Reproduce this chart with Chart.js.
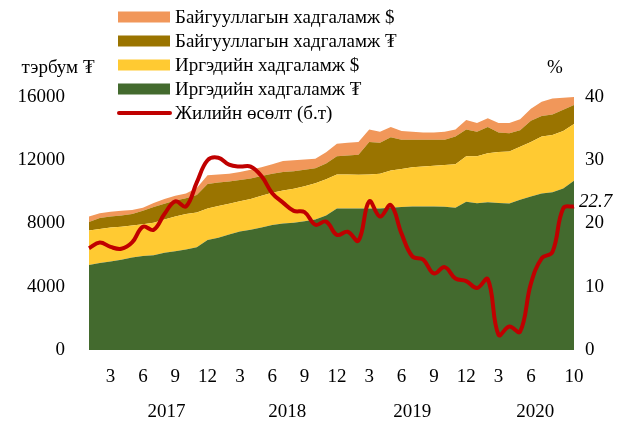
<!DOCTYPE html>
<html lang="mn">
<head>
<meta charset="UTF-8">
<title>Хадгаламж</title>
<script src="https://cdn.jsdelivr.net/npm/chart.js"></script>
<style>
  body { margin: 0; background: #fff; }
</style>
</head>
<body>
<canvas id="chart" width="623" height="423"></canvas>
<script>
// 2017-01 .. 2020-10, сар бүр
const months = [
  '1','2','3','4','5','6','7','8','9','10','11','12',
  '1','2','3','4','5','6','7','8','9','10','11','12',
  '1','2','3','4','5','6','7','8','9','10','11','12',
  '1','2','3','4','5','6','7','8','9','10'
];
const xTicks = [
  '','','3','','','6','','','9','','','12',
  '','','3','','','6','','','9','','','12',
  '','','3','','','6','','','9','','','12',
  '','','3','','','6','','','','10'
];
const years = ['2017', '2018', '2019', '2020'];
const yearPos = [7.2, 18.4, 30, 41.4]; // category index under which year is centered

// тэрбум ₮
const hhMnt = [5380,5500,5600,5700,5850,5950,6000,6150,6250,6350,6500,6950,
               7100,7300,7500,7600,7750,7900,8000,8050,8150,8250,8500,8950,
               8950,8950,8950,8950,9000,9050,9070,9080,9080,9060,9000,9380,
               9280,9350,9300,9270,9500,9700,9900,9970,10220,10700];
const hhFx = [2170,2150,2150,2100,2030,2000,2050,2100,2200,2250,2200,2000,
              2000,1950,1900,1950,2000,2050,2080,2150,2200,2300,2300,2150,
              2150,2130,2150,2200,2350,2400,2480,2520,2570,2640,2750,2870,
              2970,3100,3220,3280,3350,3450,3600,3630,3630,3600];
const bizMnt = [550,700,700,700,720,850,1000,1000,1000,1000,1100,1550,
                1500,1400,1350,1300,1250,1200,1170,1100,1050,950,1000,1150,
                1200,1270,2050,1950,2100,1850,1750,1700,1650,1600,1750,1700,
                1550,1650,1230,1150,1050,1350,1300,1300,1350,1200];
const bizFx = [350,300,300,300,250,200,250,300,300,300,450,550,
               500,500,500,550,550,600,700,700,650,600,700,800,
               800,800,800,700,650,550,500,450,450,500,450,600,
               550,550,600,650,700,750,900,1000,750,500];
// жилийн өсөлт, %
const growth = [16.1,17.0,16.3,16.0,17.0,19.5,19.0,21.5,23.5,22.7,26.5,30.0,
                30.4,29.3,29.0,29.0,27.5,24.8,23.3,22.0,21.8,19.8,20.3,18.2,
                18.7,17.3,23.5,21.1,22.9,18.4,14.8,14.3,12.1,13.1,11.3,10.9,
                9.8,11.2,2.4,3.7,2.9,10.5,14.5,15.5,22.4,22.7];

const FONT = '"Liberation Serif", "DejaVu Serif", serif';
const legendOrder = [3, 2, 1, 0, 4];

const extras = {
  id: 'extras',
  afterDraw(chart) {
    const ctx = chart.ctx;
    const x = chart.scales.x;
    ctx.save();
    ctx.fillStyle = '#000';
    ctx.font = '19px ' + FONT;
    ctx.textAlign = 'center';
    ctx.textBaseline = 'middle';
    years.forEach((y, i) => ctx.fillText(y, x.getPixelForValue(yearPos[i]), 412));
    ctx.fillText('тэрбум ₮', 58, 68);
    ctx.fillText('%', 555, 68);

    // last value label
    const meta = chart.getDatasetMeta(4);
    const last = meta.data[meta.data.length - 1];
    ctx.font = 'italic 19px ' + FONT;
    ctx.textAlign = 'left';
    ctx.fillText(growth[growth.length - 1].toFixed(1), last.x + 5, last.y - 4);

    // legend
    ctx.font = '19px ' + FONT;
    legendOrder.forEach((di, row) => {
      const ds = chart.data.datasets[di];
      const cy = 17 + row * 24;
      if (ds.type === 'line' && !ds.fill) {
        ctx.strokeStyle = ds.borderColor;
        ctx.lineWidth = 4;
        ctx.lineCap = 'round';
        ctx.beginPath();
        ctx.moveTo(119, cy);
        ctx.lineTo(170, cy);
        ctx.stroke();
      } else {
        ctx.fillStyle = ds.backgroundColor;
        ctx.fillRect(118, cy - 5.5, 52, 11);
      }
      ctx.fillStyle = '#000';
      ctx.fillText(ds.label, 175, cy + 1);
    });
    ctx.restore();
  }
};

const area = (label, data, color, fill) => ({
  type: 'line', label, data, fill,
  backgroundColor: color, borderColor: color, borderWidth: 0,
  pointRadius: 0, tension: 0, yAxisID: 'y', stack: 'dep'
});

new Chart(document.getElementById('chart'), {
  data: {
    labels: months,
    datasets: [
      area('Иргэдийн хадгаламж ₮', hhMnt, '#436A2E', 'origin'),
      area('Иргэдийн хадгаламж $', hhFx, '#FFCA32', '-1'),
      area('Байгууллагын хадгаламж ₮', bizMnt, '#9A7400', '-1'),
      area('Байгууллагын хадгаламж $', bizFx, '#F1975A', '-1'),
      {
        type: 'line', label: 'Жилийн өсөлт (б.т)', data: growth,
        borderColor: '#C00000', borderWidth: 4, pointRadius: 0,
        tension: 0.4, fill: false, yAxisID: 'y2', order: -1
      }
    ]
  },
  options: {
    responsive: false,
    animation: false,
    layout: { padding: { top: 97, left: 0, right: 0, bottom: 0 } },
    plugins: { legend: { display: false }, tooltip: { enabled: false } },
    scales: {
      x: {
        offset: false,
        grid: { display: false, drawTicks: false },
        border: { display: false },
        afterFit(s) { s.height = 73; },
        ticks: {
          autoSkip: false, maxRotation: 0, padding: 16, color: '#000',
          font: { family: FONT, size: 19 },
          callback: (v, i) => xTicks[i]
        }
      },
      y: {
        position: 'left', stacked: true, min: 0, max: 16000,
        grid: { display: false, drawTicks: false },
        border: { display: false },
        afterFit(s) { s.width = 89; },
        ticks: {
          stepSize: 4000, padding: 24, color: '#000',
          font: { family: FONT, size: 19 },
          callback: v => String(v)
        }
      },
      y2: {
        position: 'right', min: 0, max: 40,
        grid: { display: false, drawTicks: false },
        border: { display: false },
        afterFit(s) { s.width = 49; },
        ticks: { stepSize: 10, padding: 11, color: '#000', font: { family: FONT, size: 19 } }
      }
    }
  },
  plugins: [extras]
});
</script>
</body>
</html>
